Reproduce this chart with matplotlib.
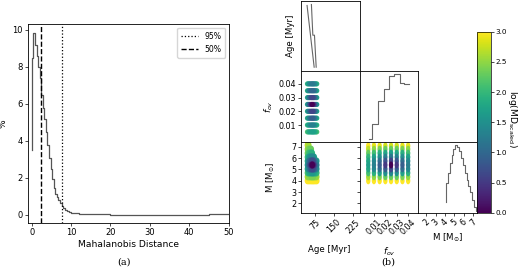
import numpy as np
import matplotlib
matplotlib.use("Agg")
import matplotlib.pyplot as plt
from matplotlib.cm import ScalarMappable
from matplotlib.colors import Normalize
from matplotlib.path import Path

# ---------------- Panel (a): Mahalanobis distance distribution ----------------
md_x = [0.0, 0.35, 0.9, 1.25, 1.6, 2.0, 2.4, 2.8, 3.2, 3.6, 4.0, 4.4, 4.8, 5.2, 5.6,
        6.0, 6.4, 6.8, 7.2, 7.6, 8.0, 8.5, 9.0, 9.5, 10.0, 11.0, 12.0, 13.0, 14.0,
        16.0, 18.0, 20.0, 22.0, 25.0, 30.0, 35.0, 40.0, 45.0, 47.0, 48.0, 50.0]
md_pct = [3.5, 8.5, 9.8, 9.2, 8.6, 8.0, 7.4, 6.5, 5.8, 5.2, 4.5, 3.8, 3.1, 2.5, 1.95,
          1.45, 1.15, 0.95, 0.8, 0.65, 0.5, 0.38, 0.28, 0.2, 0.15, 0.1, 0.08, 0.06, 0.05,
          0.04, 0.04, 0.03, 0.02, 0.01, 0.01, 0.01, 0.01, 0.01, 0.03, 0.05, 0.04]
md_95 = 7.6
md_50 = 2.28
a_xticks = [0, 10, 20, 30, 40, 50]
a_yticks = [0, 2, 4, 6, 8, 10]

# ---------------- Panel (b): corner plot ----------------
age_ticks = [75, 150, 225]
fov_ticks = [0.01, 0.02, 0.03, 0.04]
mass_ticks = [2, 3, 4, 5, 6, 7]
age_lim = (18, 253)
fov_lim = (-0.0025, 0.049)
mass_lim = (1.15, 7.42)

# 1D histogram of Age (two traced outlines)
age_hist_a_x = [42.3, 70.7]
age_hist_a_y = [66.0, 4.3]
age_hist_b_x = [59.7, 65.4, 71.9, 78.8]
age_hist_b_y = [67.0, 36.3, 36.3, 4.3]

# 1D histogram of f_ov
fov_hist_x = [0.006, 0.0085, 0.0135, 0.0185, 0.0235, 0.0275, 0.033, 0.036, 0.041]
fov_hist_y = [3.0, 3.0, 17.7, 41.3, 52.7, 66.3, 67.7, 59.3, 58.0]

# 1D histogram of M
mass_hist_x = [4.1, 4.3, 4.5, 4.7, 4.9, 5.1, 5.3, 5.5, 5.7, 5.9, 6.1, 6.3, 6.5, 6.7,
               6.9, 7.1, 7.3, 7.42]
mass_hist_y = [11, 30, 40, 50, 58, 64, 68, 66, 62, 55, 48, 40, 33, 27, 21, 13, 6, 2]

# grid values of the models
grid_age = [44, 49, 54, 59, 63, 67, 71, 76, 81]
grid_fov = [0.005, 0.01, 0.015, 0.02, 0.025, 0.03, 0.035, 0.04]
grid_mass_am = [4.0, 4.35, 4.7, 5.05, 5.4, 5.75, 6.1, 6.45, 6.8, 7.15, 7.5]
grid_mass_fm = [4.0, 4.35, 4.7, 5.05, 5.4, 5.75, 6.1, 6.45, 6.8, 7.1]

nan = np.nan
# log(MD_scaled): rows = f_ov, columns = age
logmd_age_fov = [
    [2.1, 1.9, 1.8, 1.7, 1.7, 1.7, 1.8, 1.9, 2.1],
    [1.9, 1.7, 1.5, 1.3, 1.3, 1.3, 1.5, 1.7, 1.9],
    [1.8, 1.5, 1.2, 1.0, 0.9, 1.0, 1.2, 1.5, 1.8],
    [1.7, 1.3, 1.0, 0.7, 0.6, 0.7, 1.0, 1.3, 1.7],
    [1.6, 1.2, 0.7, 0.3, 0.0, 0.3, 0.7, 1.2, 1.6],
    [1.7, 1.3, 1.0, 0.7, 0.6, 0.7, 1.0, 1.3, 1.7],
    [1.8, 1.5, 1.2, 1.0, 1.0, 1.0, 1.2, 1.5, 1.8],
    [1.9, 1.6, 1.4, 1.3, 1.2, 1.3, 1.4, 1.6, 1.9],
]
# rows = M, columns = age
logmd_age_mass = [
    [3.0, 3.0, 3.0, 3.0, 3.0, 3.0, 3.0, 3.0, 3.0],
    [2.6, 2.5, 2.5, 2.4, 2.4, 2.4, 2.5, 2.5, 2.6],
    [2.1, 1.9, 1.8, 1.7, 1.6, 1.7, 1.8, 1.9, 2.0],
    [1.7, 1.4, 1.1, 0.8, 0.7, 0.8, 1.0, 1.3, 1.5],
    [1.5, 1.1, 0.7, 0.3, 0.0, 0.3, 0.7, 1.1, 1.3],
    [1.7, 1.3, 1.0, 0.8, 0.7, 0.8, 1.1, 1.4, 1.6],
    [2.0, 1.7, 1.5, 1.4, 1.4, 1.5, 1.7, nan, nan],
    [2.3, 2.1, 2.0, 1.9, 1.9, nan, nan, nan, nan],
    [2.5, 2.4, 2.3, 2.3, nan, nan, nan, nan, nan],
    [2.7, 2.6, nan, nan, nan, nan, nan, nan, nan],
    [2.9, nan, nan, nan, nan, nan, nan, nan, nan],
]
# rows = M, columns = f_ov
logmd_fov_mass = [
    [3.0, 3.0, 3.0, 3.0, 3.0, 3.0, 3.0, 3.0],
    [2.6, 2.5, 2.4, 2.3, 2.3, 2.3, 2.4, 2.5],
    [2.1, 1.9, 1.7, 1.5, 1.4, 1.5, 1.7, 1.9],
    [1.8, 1.4, 1.1, 0.9, 0.7, 0.9, 1.1, 1.4],
    [1.7, 1.3, 0.9, 0.5, 0.0, 0.5, 0.9, 1.3],
    [1.8, 1.4, 1.1, 0.8, 0.6, 0.8, 1.1, 1.4],
    [2.0, 1.7, 1.5, 1.3, 1.2, 1.3, 1.5, 1.7],
    [2.3, 2.1, 1.9, 1.8, 1.7, 1.8, 1.9, 2.1],
    [2.7, 2.5, 2.4, 2.3, 2.3, 2.3, 2.4, 2.5],
    [3.0, 2.9, 2.9, 2.8, 2.8, 2.8, 2.9, 2.9],
]
cbar_ticks = [0.0, 0.5, 1.0, 1.5, 2.0, 2.5, 3.0]

# ---------------- figure ----------------
plt.rcParams["font.family"] = ["DejaVu Sans"]
plt.rcParams["axes.linewidth"] = 0.6
plt.rcParams["xtick.major.width"] = 0.5
plt.rcParams["ytick.major.width"] = 0.5
plt.rcParams["xtick.major.size"] = 2.2
plt.rcParams["ytick.major.size"] = 2.2
plt.rcParams["xtick.major.pad"] = 1.5
plt.rcParams["ytick.major.pad"] = 1.5
plt.rcParams["mathtext.fontset"] = "dejavusans"

W, H = 520, 267
fig = plt.figure(figsize=(W / 100, H / 100), dpi=100)


def ax_px(l, t, w, h):
    return fig.add_axes([l / W, 1 - (t + h) / H, w / W, h / H])


def ellipse_marker(wx, hy):
    t = np.linspace(0, 2 * np.pi, 41)
    return Path(np.column_stack([wx * np.cos(t), hy * np.sin(t)]), closed=True)


# ---- panel (a)
axa = ax_px(27.7, 24, 201.6, 199.3)
axa.step(md_x, md_pct, where="pre", color="#555555", lw=0.9)
axa.axvline(md_95, color="black", ls=":", lw=0.9, label="95%")
axa.axvline(md_50, color="black", ls="--", lw=1.0, label="50%")
axa.set_xlim(-1.0, 50.2)
axa.set_ylim(-0.45, 10.31)
axa.set_xticks(a_xticks)
axa.set_yticks(a_yticks)
axa.tick_params(labelsize=6.0)
axa.set_xlabel("Mahalanobis Distance", fontsize=6.6, labelpad=1.5)
axa.set_ylabel("%", fontsize=6.6, labelpad=3)
axa.legend(loc="upper right", fontsize=5.6, handlelength=2.2, borderpad=0.5,
           framealpha=0.8, edgecolor="#cccccc", fancybox=True)
fig.text(124 / W, 1 - 262 / H, "(a)", ha="center", va="center",
         fontsize=7, family="DejaVu Serif")

# ---- panel (b)
cols = [301.0, 359.7, 418.3]
rows = [0.8, 71.5, 142.2]
cw, rh = 58.7, 70.7
lims = [age_lim, fov_lim, mass_lim]
ticks = [age_ticks, fov_ticks, mass_ticks]
tick_fmt = [lambda v: f"{v:g}", lambda v: f"{v:.2f}", lambda v: f"{v:g}"]
axes = {}
for i in range(3):
    for j in range(i + 1):
        ax = ax_px(cols[j], rows[i], cw, rh)
        axes[(i, j)] = ax
        ax.set_xlim(*lims[j])
        ax.set_xticks(ticks[j])
        ax.tick_params(labelsize=5.8, length=2.0)
        if i == 2:
            ax.set_xticklabels([tick_fmt[j](v) for v in ticks[j]], rotation=45)
        else:
            ax.set_xticklabels([])
        if i == j:
            ax.set_yticks([])
            ax.set_ylim(0, rh)
        else:
            ax.set_ylim(*lims[i])
            ax.set_yticks(ticks[i])
            if j == 0:
                ax.set_yticklabels([tick_fmt[i](v) for v in ticks[i]])
            else:
                ax.set_yticklabels([])

cmap = plt.get_cmap("viridis")
norm = Normalize(vmin=0, vmax=3)
hist_col = "#666666"

# diagonal histograms
axes[(0, 0)].plot(age_hist_a_x, age_hist_a_y, color=hist_col, lw=0.8)
axes[(0, 0)].plot(age_hist_b_x, age_hist_b_y, color=hist_col, lw=0.8)
axes[(1, 1)].step(fov_hist_x, fov_hist_y, where="pre", color=hist_col, lw=0.8)
axes[(2, 2)].step(mass_hist_x, mass_hist_y, where="pre", color=hist_col, lw=0.8)


def grid_scatter(ax, xs, ys, vals, s, marker="o"):
    X, Y = np.meshgrid(np.asarray(xs, float), np.asarray(ys, float))
    V = np.asarray(vals, float)
    m = ~np.isnan(V)
    x, y, v = X[m], Y[m], V[m]
    order = np.argsort(-v)
    ax.scatter(x[order], y[order], c=v[order], cmap=cmap, norm=norm, s=s,
               marker=marker, linewidths=0, clip_on=True)


grid_scatter(axes[(1, 0)], grid_age, grid_fov, logmd_age_fov, 14)
grid_scatter(axes[(2, 0)], grid_age, grid_mass_am, logmd_age_mass, 26,
             marker=ellipse_marker(0.8, 1.0))
grid_scatter(axes[(2, 1)], grid_fov, grid_mass_fm, logmd_fov_mass, 26,
             marker=ellipse_marker(0.62, 1.0))

# labels
axes[(0, 0)].set_ylabel("Age [Myr]", fontsize=6.2)
axes[(0, 0)].yaxis.set_label_coords(-0.10, 0.5)
axes[(1, 0)].set_ylabel("$f_{ov}$", fontsize=6.4)
axes[(1, 0)].yaxis.set_label_coords(-0.44, 0.5)
axes[(2, 0)].set_ylabel("M [M$_{\\odot}$]", fontsize=6.2)
axes[(2, 0)].yaxis.set_label_coords(-0.41, 0.5)
axes[(2, 0)].set_xlabel("Age [Myr]", fontsize=6.2)
axes[(2, 0)].xaxis.set_label_coords(0.486, -0.457)
axes[(2, 1)].set_xlabel("$f_{ov}$", fontsize=6.4)
axes[(2, 1)].xaxis.set_label_coords(0.5, -0.457)
axes[(2, 2)].set_xlabel("M [M$_{\\odot}$]", fontsize=6.2)
axes[(2, 2)].xaxis.set_label_coords(0.497, -0.27)

# colorbar
cax = ax_px(477, 31.7, 14, 181)
cb = fig.colorbar(ScalarMappable(norm=norm, cmap=cmap), cax=cax, ticks=cbar_ticks)
cb.outline.set_linewidth(0.5)
cax.tick_params(labelsize=5.2, length=2.0, pad=1.2)
cb.set_label("log(MD$_{\\rm scaled}$)", fontsize=6.6, rotation=270, labelpad=0)
cax.yaxis.set_label_coords(3.02, 0.52)

fig.text(388 / W, 1 - 262 / H, "(b)", ha="center", va="center",
         fontsize=7, family="DejaVu Serif")

fig.savefig("out.png", dpi=100)
